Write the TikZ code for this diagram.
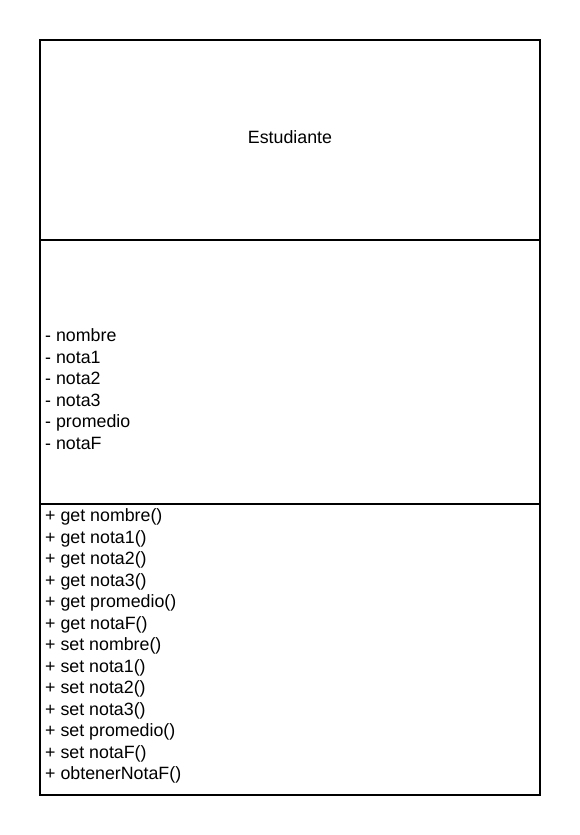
\documentclass[tikz,border=0pt]{standalone}
\usepackage{fontspec}
\setmainfont{Liberation Sans}
\begin{document}
\begin{tikzpicture}[x=1pt,y=-1pt,
  compartment/.style={draw=black, line width=2.4pt, minimum width=500pt,
    inner sep=0pt, outer sep=0pt, anchor=north west},
  members/.style={anchor=west, align=left, inner sep=0pt,
    font=\fontsize{17.8pt}{21.5pt}\selectfont}
]
\useasboundingbox (0,0) rectangle (580,835);
% class name, attributes and operations
\node[compartment, minimum height=200pt] (head) at (40,40) {};
\node[compartment, minimum height=264pt] (attrs) at (40,240) {};
\node[compartment, minimum height=291pt] (ops) at (40,504) {};
\node[font=\fontsize{17.8pt}{21.5pt}\selectfont] (name) at (290,137) {Estudiante};
\node[members] (attrlist) at (45,389) {- nombre\\- nota1\\- nota2\\- nota3\\- promedio\\- notaF};
\node[members] (oplist) at (45,646) {+ get nombre()\\+ get nota1()\\+ get nota2()\\+ get nota3()\\+ get promedio()\\+ get notaF()\\+ set nombre()\\+ set nota1()\\+ set nota2()\\+ set nota3()\\+ set promedio()\\+ set notaF()\\+ obtenerNotaF()};
\end{tikzpicture}
\end{document}
